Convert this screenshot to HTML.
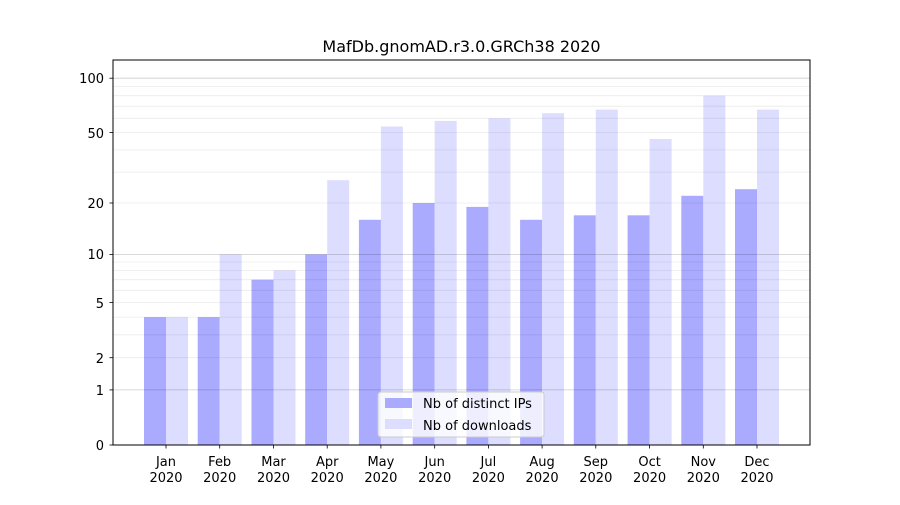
<!DOCTYPE html>
<html><head><meta charset="utf-8"><style>
html,body{margin:0;padding:0;background:#fff;}
svg text{font-family:"DejaVu Sans","Liberation Sans",sans-serif;fill:#000;}
</style></head><body>
<svg width="900" height="500" viewBox="0 0 900 500" xmlns="http://www.w3.org/2000/svg">
<rect width="900" height="500" fill="#fff"/>
<g fill="#aaaaff">
<rect x="144" y="317.1" width="22" height="127.9"/>
<rect x="197.7" y="317.1" width="22" height="127.9"/>
<rect x="251.5" y="279.7" width="22" height="165.3"/>
<rect x="305.2" y="254.4" width="22" height="190.6"/>
<rect x="358.9" y="219.8" width="22" height="225.2"/>
<rect x="412.7" y="203" width="22" height="242"/>
<rect x="466.4" y="206.9" width="22" height="238.1"/>
<rect x="520.1" y="219.8" width="22" height="225.2"/>
<rect x="573.8" y="215.3" width="22" height="229.7"/>
<rect x="627.6" y="215.3" width="22" height="229.7"/>
<rect x="681.3" y="195.8" width="22" height="249.2"/>
<rect x="735" y="189.2" width="22" height="255.8"/>
</g>
<g fill="#ddddff">
<rect x="166" y="317.1" width="22" height="127.9"/>
<rect x="219.7" y="254.4" width="22" height="190.6"/>
<rect x="273.5" y="270.4" width="22" height="174.6"/>
<rect x="327.2" y="180.2" width="22" height="264.8"/>
<rect x="380.9" y="126.5" width="22" height="318.5"/>
<rect x="434.7" y="120.9" width="22" height="324.1"/>
<rect x="488.4" y="118.3" width="22" height="326.7"/>
<rect x="542.1" y="113.2" width="22" height="331.8"/>
<rect x="595.8" y="109.6" width="22" height="335.4"/>
<rect x="649.6" y="139" width="22" height="306"/>
<rect x="703.3" y="95.7" width="22" height="349.3"/>
<rect x="757" y="109.6" width="22" height="335.4"/>
</g>
<g stroke="#000" stroke-opacity="0.08" stroke-width="0.8">
<line x1="113" x2="810" y1="357.7" y2="357.7"/><line x1="113" x2="810" y1="334.8" y2="334.8"/>
<line x1="113" x2="810" y1="317.1" y2="317.1"/><line x1="113" x2="810" y1="302.6" y2="302.6"/>
<line x1="113" x2="810" y1="290.3" y2="290.3"/><line x1="113" x2="810" y1="279.7" y2="279.7"/>
<line x1="113" x2="810" y1="270.4" y2="270.4"/><line x1="113" x2="810" y1="262" y2="262"/>
<line x1="113" x2="810" y1="203" y2="203"/><line x1="113" x2="810" y1="172.1" y2="172.1"/>
<line x1="113" x2="810" y1="149.9" y2="149.9"/><line x1="113" x2="810" y1="132.5" y2="132.5"/>
<line x1="113" x2="810" y1="118.3" y2="118.3"/><line x1="113" x2="810" y1="106.2" y2="106.2"/>
<line x1="113" x2="810" y1="95.7" y2="95.7"/><line x1="113" x2="810" y1="86.5" y2="86.5"/>
</g>
<g stroke="#000" stroke-opacity="0.2" stroke-width="0.8">
<line x1="113" x2="810" y1="389.9" y2="389.9"/><line x1="113" x2="810" y1="254.4" y2="254.4"/><line x1="113" x2="810" y1="78.2" y2="78.2"/>
</g>
<rect x="113" y="60" width="697" height="385" fill="none" stroke="#000" stroke-width="1"/>
<g stroke="#000" stroke-width="0.8">
<line x1="109.5" x2="113" y1="445" y2="445"/><line x1="109.5" x2="113" y1="389.9" y2="389.9"/>
<line x1="109.5" x2="113" y1="357.7" y2="357.7"/><line x1="109.5" x2="113" y1="302.6" y2="302.6"/>
<line x1="109.5" x2="113" y1="254.4" y2="254.4"/><line x1="109.5" x2="113" y1="203" y2="203"/>
<line x1="109.5" x2="113" y1="132.5" y2="132.5"/><line x1="109.5" x2="113" y1="78.2" y2="78.2"/>
</g>
<g font-size="13" text-anchor="end">
<text x="104" y="450">0</text><text x="104" y="395">1</text><text x="104" y="363">2</text>
<text x="104" y="308">5</text><text x="104" y="259">10</text><text x="104" y="208">20</text>
<text x="104" y="138">50</text><text x="104" y="83">100</text>
</g>
<g font-size="13" text-anchor="middle">
<text x="166" y="466">Jan</text><text x="166" y="482">2020</text>
<text x="219.7" y="466">Feb</text><text x="219.7" y="482">2020</text>
<text x="273.5" y="466">Mar</text><text x="273.5" y="482">2020</text>
<text x="327.2" y="466">Apr</text><text x="327.2" y="482">2020</text>
<text x="380.9" y="466">May</text><text x="380.9" y="482">2020</text>
<text x="434.7" y="466">Jun</text><text x="434.7" y="482">2020</text>
<text x="488.4" y="466">Jul</text><text x="488.4" y="482">2020</text>
<text x="542.1" y="466">Aug</text><text x="542.1" y="482">2020</text>
<text x="595.8" y="466">Sep</text><text x="595.8" y="482">2020</text>
<text x="649.6" y="466">Oct</text><text x="649.6" y="482">2020</text>
<text x="703.3" y="466">Nov</text><text x="703.3" y="482">2020</text>
<text x="757" y="466">Dec</text><text x="757" y="482">2020</text>
</g>
<g stroke="#000" stroke-width="0.8">
<line x1="166" x2="166" y1="445" y2="448.5"/><line x1="219.7" x2="219.7" y1="445" y2="448.5"/>
<line x1="273.5" x2="273.5" y1="445" y2="448.5"/><line x1="327.2" x2="327.2" y1="445" y2="448.5"/>
<line x1="380.9" x2="380.9" y1="445" y2="448.5"/><line x1="434.7" x2="434.7" y1="445" y2="448.5"/>
<line x1="488.4" x2="488.4" y1="445" y2="448.5"/><line x1="542.1" x2="542.1" y1="445" y2="448.5"/>
<line x1="595.8" x2="595.8" y1="445" y2="448.5"/><line x1="649.6" x2="649.6" y1="445" y2="448.5"/>
<line x1="703.3" x2="703.3" y1="445" y2="448.5"/><line x1="757" x2="757" y1="445" y2="448.5"/>
</g>
<text x="461.5" y="52" font-size="16" text-anchor="middle">MafDb.gnomAD.r3.0.GRCh38 2020</text>
<rect x="378" y="392" width="166" height="45" rx="3" fill="#fff" fill-opacity="0.8" stroke="#cccccc"/>
<rect x="385" y="398" width="27" height="10" fill="#aaaaff"/>
<rect x="385" y="419" width="27" height="10" fill="#ddddff"/>
<text x="423" y="408" font-size="13">Nb of distinct IPs</text>
<text x="423" y="430" font-size="13">Nb of downloads</text>
</svg>
</body></html>
